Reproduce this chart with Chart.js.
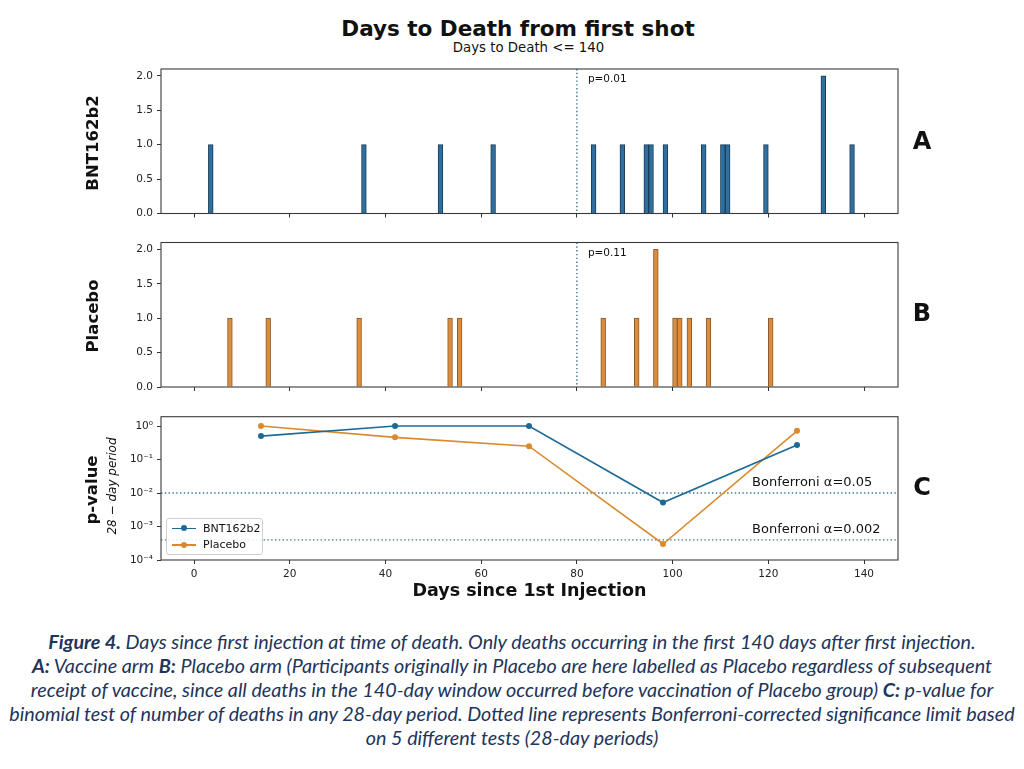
<!DOCTYPE html>
<html>
<head>
<meta charset="utf-8">
<title>Days to Death from first shot</title>
<script src="https://cdn.jsdelivr.net/npm/chart.js@4.4.1/dist/chart.umd.min.js"></script>
<style>
    body { margin: 0; background: #fff; width: 1024px; height: 769px; position: relative; overflow: hidden;
           font-family: "DejaVu Sans", sans-serif; color: #111; }
    .panel { position: absolute; left: 0; width: 1024px; }
    .txt { position: absolute; white-space: nowrap; line-height: 1; transform: translate(-50%, -50%); z-index: 2; }
    .rot { transform: translate(-50%, -50%) rotate(-90deg); }
    .bold { font-weight: bold; }
    #legend { position: absolute; left: 166px; top: 517.5px; width: 97px; height: 37px; box-sizing: border-box;
              border: 1px solid #d0d0d0; border-radius: 3px; background: rgba(255,255,255,0.85); z-index: 2; }
    .entry { position: absolute; left: 0; height: 14px; width: 100%; font-size: 11px; line-height: 14px; }
    .entry .mark { position: absolute; left: 5px; top: 6px; width: 24px; height: 1.6px; }
    .entry .dot { position: absolute; left: 9px; top: -2.2px; width: 6px; height: 6px; border-radius: 50%; }
    .entry span { position: absolute; left: 36px; }
    #caption { position: absolute; left: 0; top: 629.5px; width: 1024px; text-align: center; z-index: 2;
               font-family: Lato, "Open Sans", sans-serif; font-style: italic; font-size: 16px;
               line-height: 24.1px; color: #22345a; white-space: nowrap; }
</style>
</head>
<body>

<div class="txt bold" style="left:518px;top:28.5px;font-size:21.5px">Days to Death from first shot</div>
<div class="txt" style="left:528.5px;top:48px;font-size:13.3px">Days to Death &lt;= 140</div>

<div class="txt bold rot" style="left:93px;top:143px;font-size:16.5px">BNT162b2</div>
<div class="txt bold rot" style="left:93px;top:316px;font-size:16.5px">Placebo</div>
<div class="txt bold rot" style="left:92px;top:490px;font-size:16.5px">p-value</div>
<div class="txt rot" style="left:112px;top:486px;font-size:12px;font-style:italic">28 − day period</div>

<div class="txt bold" style="left:922px;top:141px;font-size:24px">A</div>
<div class="txt bold" style="left:922px;top:313px;font-size:24px">B</div>
<div class="txt bold" style="left:922px;top:487px;font-size:24px">C</div>

<div class="panel" style="top:60px;height:170px"><canvas id="panelA"></canvas></div>
<div class="panel" style="top:232px;height:170px"><canvas id="panelB"></canvas></div>
<div class="panel" style="top:405px;height:197px"><canvas id="panelC"></canvas></div>
<div id="legend"></div>

<div id="caption">
<span class="line"><b>Figure 4.</b> Days since first injection at time of death. Only deaths occurring in the first 140 days after first injection.</span><br>
<span class="line"><b>A:</b> Vaccine arm <b>B:</b> Placebo arm (Participants originally in Placebo are here labelled as Placebo regardless of subsequent</span><br>
<span class="line">receipt of vaccine, since all deaths in the 140-day window occurred before vaccination of Placebo group) <b>C:</b> p-value for</span><br>
<span class="line">binomial test of number of deaths in any 28-day period. Dotted line represents Bonferroni-corrected significance limit based</span><br>
<span class="line">on 5 different tests (28-day periods)</span>
</div>

<script>
"use strict";

// histogram bins are one day wide, x = bin centre
const vaccineDays = [3.5, 35.5, 51.5, 62.5, 83.5, 89.5, 94.5, 95.5, 98.5, 106.5, 110.5, 111.5, 119.5, 131.5, 137.5];
const vaccineDeaths = [1, 1, 1, 1, 1, 1, 1, 1, 1, 1, 1, 1, 1, 2, 1];
const placeboDays = [7.5, 15.5, 34.5, 53.5, 55.5, 85.5, 92.5, 96.5, 100.5, 101.5, 103.5, 107.5, 120.5];
const placeboDeaths = [1, 1, 1, 1, 1, 1, 1, 2, 1, 1, 1, 1, 1];

// binomial test per 28-day period, x = middle of the period
const periodMid = [14, 42, 70, 98, 126];
const vaccinePValues = [0.5, 1.0, 1.0, 0.0052, 0.27];
const placeboPValues = [1.0, 0.46, 0.25, 0.0003, 0.72];

const seriesNames = ["BNT162b2", "Placebo"];
const bonferroniLevels = [0.01, 0.0004];
const bonferroniLabels = ["Bonferroni α=0.05", "Bonferroni α=0.002"];
const splitDay = 80;
const splitLabels = ["p=0.01", "p=0.11"];

const dayTicks = [0, 20, 40, 60, 80, 100, 120, 140];
const countTicks = [0, 0.5, 1, 1.5, 2];
const pTicks = [1e-4, 1e-3, 1e-2, 1e-1, 1];
const pTickLabels = ["10⁻⁴", "10⁻³", "10⁻²", "10⁻¹", "10⁰"];

const blue = "#1c6a96";
const orange = "#d98a2e";
const guideColor = "#3d7494";
const tickFont = { family: "DejaVu Sans", size: 10.5 };

/**
 * box round the plot area, like matplotlib spines
 */
const framePlugin = {
    id: "frame",
    afterDatasetsDraw(chart) {
        const a = chart.chartArea;
        const ctx = chart.ctx;
        ctx.save();
        ctx.strokeStyle = "#3a3a3a";
        ctx.lineWidth = 1.1;
        ctx.strokeRect(a.left, a.top, a.right - a.left, a.bottom - a.top);
        ctx.restore();
    }
};

/**
 * dotted guide lines (vertical at x values, horizontal at y values) and text notes in data coordinates
 */
function guidePlugin(vLines, hLines, notes) {
    return {
        id: "guides",
        beforeDatasetsDraw(chart) {
            const a = chart.chartArea;
            const ctx = chart.ctx;
            const xs = chart.scales.x;
            const ys = chart.scales.y;
            ctx.save();
            ctx.strokeStyle = guideColor;
            ctx.lineWidth = 1.4;
            ctx.setLineDash([1.4, 2.4]);
            vLines.forEach(v => {
                const px = xs.getPixelForValue(v);
                ctx.beginPath();
                ctx.moveTo(px, a.top);
                ctx.lineTo(px, a.bottom);
                ctx.stroke();
            });
            hLines.forEach(v => {
                const py = ys.getPixelForValue(v);
                ctx.beginPath();
                ctx.moveTo(a.left, py);
                ctx.lineTo(a.right, py);
                ctx.stroke();
            });
            ctx.restore();
        },
        afterDatasetsDraw(chart) {
            const ctx = chart.ctx;
            ctx.save();
            ctx.fillStyle = "#111";
            ctx.textAlign = "left";
            ctx.textBaseline = "middle";
            notes.forEach(n => {
                ctx.font = n.size + "px 'DejaVu Sans'";
                ctx.fillText(n.text, chart.scales.x.getPixelForValue(n.x),
                    chart.scales.y.getPixelForValue(n.y) + (n.dy || 0));
            });
            ctx.restore();
        }
    };
}

function tickGrid() {
    return { display: true, offset: false, drawOnChartArea: false, drawTicks: true, tickLength: 4, color: "#333", lineWidth: 1 };
}

function histogramChart(id, days, deaths, fill, edge, note, padTop, xHeight) {
    new Chart(document.getElementById(id), {
        type: "bar",
        data: {
            datasets: [{
                data: days.map((d, i) => ({ x: d, y: deaths[i] })),
                backgroundColor: fill,
                borderColor: edge,
                borderWidth: 1,
                barPercentage: 1,
                categoryPercentage: 1
            }]
        },
        options: {
            animation: false,
            responsive: true,
            maintainAspectRatio: false,
            layout: { padding: { left: 0, right: 126, top: padTop, bottom: 0 } },
            plugins: { legend: { display: false }, tooltip: { enabled: false } },
            scales: {
                x: {
                    type: "linear", min: -6.9, max: 147.1, offset: false,
                    afterBuildTicks: s => { s.ticks = dayTicks.map(v => ({ value: v })); },
                    afterFit: s => { s.height = xHeight; s.paddingLeft = 0; s.paddingRight = 0; },
                    ticks: { callback: () => "", font: tickFont },
                    grid: tickGrid(),
                    border: { display: false }
                },
                y: {
                    min: 0, max: 2.1,
                    afterBuildTicks: s => { s.ticks = countTicks.map(v => ({ value: v })); },
                    afterFit: s => { s.width = 161; s.paddingTop = 0; s.paddingBottom = 0; },
                    ticks: { callback: v => v.toFixed(1), font: tickFont, color: "#222", padding: 4 },
                    grid: tickGrid(),
                    border: { display: false }
                }
            }
        },
        plugins: [framePlugin, guidePlugin([splitDay], [], [{ x: 82.3, y: 1.95, text: note, size: 10.5 }])]
    });
}

function pValueChart() {
    const colors = [blue, orange];
    const values = [vaccinePValues, placeboPValues];
    new Chart(document.getElementById("panelC"), {
        type: "line",
        data: {
            datasets: seriesNames.map((name, k) => ({
                label: name,
                data: periodMid.map((d, i) => ({ x: d, y: values[k][i] })),
                borderColor: colors[k],
                backgroundColor: colors[k],
                borderWidth: 1.6,
                pointRadius: 3,
                pointBorderWidth: 0,
                tension: 0
            }))
        },
        options: {
            animation: false,
            responsive: true,
            maintainAspectRatio: false,
            layout: { padding: { left: 0, right: 126, top: 11.7, bottom: 0 } },
            plugins: { legend: { display: false }, tooltip: { enabled: false } },
            scales: {
                x: {
                    type: "linear", min: -6.9, max: 147.1, offset: false,
                    afterBuildTicks: s => { s.ticks = dayTicks.map(v => ({ value: v })); },
                    afterFit: s => { s.height = 42; s.paddingLeft = 0; s.paddingRight = 0; },
                    ticks: { font: tickFont, color: "#222", padding: 4, maxRotation: 0 },
                    grid: tickGrid(),
                    border: { display: false },
                    title: {
                        display: true, text: "Days since 1st Injection", color: "#111",
                        font: { family: "DejaVu Sans", size: 17.5, weight: "bold" },
                        padding: { top: 0, bottom: 0 }
                    }
                },
                y: {
                    type: "logarithmic", min: 1e-4, max: 1.9,
                    afterBuildTicks: s => { s.ticks = pTicks.map(v => ({ value: v })); },
                    afterFit: s => { s.width = 161; s.paddingTop = 0; s.paddingBottom = 0; },
                    ticks: {
                        callback: v => pTickLabels[pTicks.findIndex(t => Math.abs(t - v) / t < 1e-6)],
                        font: tickFont, color: "#222", padding: 4
                    },
                    grid: tickGrid(),
                    border: { display: false }
                }
            }
        },
        plugins: [framePlugin, guidePlugin([], bonferroniLevels,
            bonferroniLabels.map((t, i) => ({ x: 116.6, y: bonferroniLevels[i], dy: -10, text: t, size: 13 })))]
    });

    // legend box in the lower left corner of the axes
    const legend = document.getElementById("legend");
    seriesNames.forEach((name, k) => {
        const row = document.createElement("div");
        row.className = "entry";
        row.style.top = (3 + k * 16.6) + "px";
        row.innerHTML = '<div class="mark" style="background:' + colors[k] + '"><div class="dot" style="background:' +
            colors[k] + '"></div></div><span>' + name + '</span>';
        legend.appendChild(row);
    });
}

/**
 * caption font size is fitted so that the longest line spans the page like in the figure
 */
function fitCaption() {
    const lines = document.querySelectorAll("#caption .line");
    let widest = 0;
    lines.forEach(l => { widest = Math.max(widest, l.getBoundingClientRect().width); });
    if (widest > 0) {
        document.getElementById("caption").style.fontSize = (16 * 1006 / widest) + "px";
    }
}

window.onload = () => {
    histogramChart("panelA", vaccineDays, vaccineDeaths, "#2f6f9f", "#1b3d58", splitLabels[0], 9, 16.5);
    histogramChart("panelB", placeboDays, placeboDeaths, "#dc8c3a", "#8a5a2b", splitLabels[1], 10.5, 15);
    pValueChart();
    fitCaption();
}
</script>
</body>
</html>
